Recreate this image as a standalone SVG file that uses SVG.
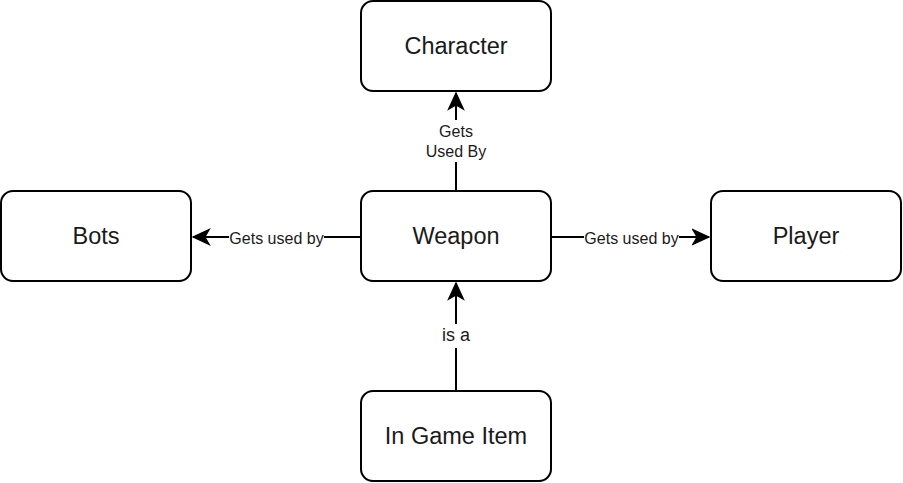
<svg xmlns="http://www.w3.org/2000/svg" width="903" height="483" viewBox="0 0 903 483">
<style>
.box{fill:#fff;stroke:#000;stroke-width:2}
.nt{font-family:"Liberation Sans",Arial,sans-serif;font-size:23.5px;fill:#1a1a1a;text-anchor:middle;dominant-baseline:central}
.et{font-family:"Liberation Sans",Arial,sans-serif;font-size:16px;fill:#1a1a1a;text-anchor:middle;dominant-baseline:central}
.ln{fill:none;stroke:#000;stroke-width:2}
.bg{fill:#fff}
</style>
<defs>
<marker id="arr" markerUnits="userSpaceOnUse" markerWidth="20" markerHeight="20" viewBox="-14 -8 16 16" refX="0" refY="0" orient="auto">
<path d="M0,0 L-13,-6 L-9.5,0 L-13,6 Z" fill="#000" stroke="#000" stroke-width="1"/>
</marker>
</defs>
<g id="connectors">
<g id="e-weapon-character">
<path class="ln" d="M456,191 L456,93" marker-end="url(#arr)"/>
<rect class="bg" x="414" y="120" width="84" height="42"/>
<text class="et" x="456" y="131">Gets</text>
<text class="et" x="456" y="151">Used By</text>
</g>
<g id="e-weapon-bots">
<path class="ln" d="M361,237 L193,237" marker-end="url(#arr)"/>
<rect class="bg" x="229" y="228" width="95" height="18"/>
<text class="et" x="276.5" y="238">Gets used by</text>
</g>
<g id="e-weapon-player">
<path class="ln" d="M551,237 L709,237" marker-end="url(#arr)"/>
<rect class="bg" x="584" y="228" width="95" height="18"/>
<text class="et" x="631.5" y="238">Gets used by</text>
</g>
<g id="e-item-weapon">
<path class="ln" d="M456,391 L456,283" marker-end="url(#arr)"/>
<rect class="bg" x="436" y="324" width="40" height="24"/>
<text class="et" x="456" y="335" style="font-size:18px">is a</text>
</g>
</g>
<g id="n-character">
<rect class="box" x="361" y="1" width="190" height="90" rx="12"/>
<text class="nt" x="456" y="46">Character</text>
</g>
<g id="n-bots">
<rect class="box" x="1" y="191" width="190" height="90" rx="12"/>
<text class="nt" x="96" y="236">Bots</text>
</g>
<g id="n-weapon">
<rect class="box" x="361" y="191" width="190" height="90" rx="12"/>
<text class="nt" x="456" y="236">Weapon</text>
</g>
<g id="n-player">
<rect class="box" x="711" y="191" width="190" height="90" rx="12"/>
<text class="nt" x="806" y="236">Player</text>
</g>
<g id="n-item">
<rect class="box" x="361" y="391" width="190" height="90" rx="12"/>
<text class="nt" x="456" y="436">In Game Item</text>
</g>
</svg>
